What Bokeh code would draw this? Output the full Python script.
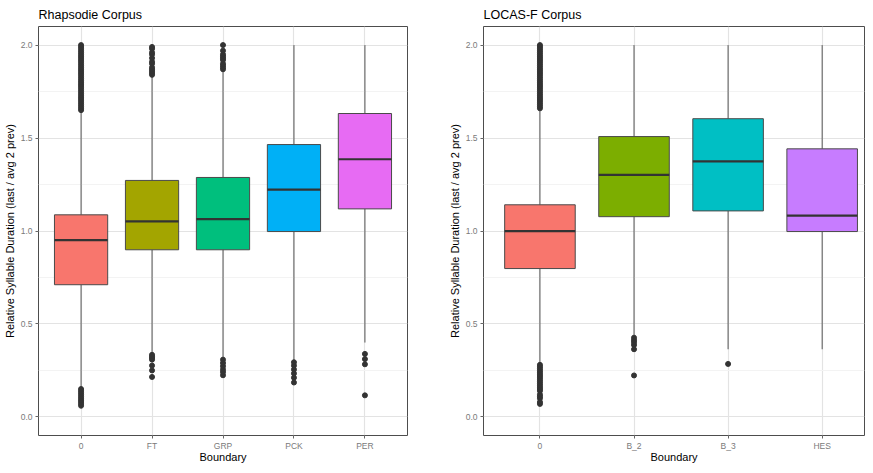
import numpy as np
from bokeh.plotting import figure
from bokeh.layouts import row
from bokeh.models import Range1d, FixedTicker, PrintfTickFormatter
from bokeh.embed import file_html
from bokeh.resources import INLINE

# ---------------- data ----------------
rh_cats = ["0", "FT", "GRP", "PCK", "PER"]
rh_colors = ["#F8766D", "#A3A500", "#00BF7D", "#00B0F6", "#E76BF3"]
rh_q1 = [0.711, 0.899, 0.899, 0.997, 1.119]
rh_med = [0.951, 1.052, 1.064, 1.223, 1.386]
rh_q3 = [1.087, 1.272, 1.288, 1.465, 1.632]
rh_lo = [0.15, 0.34, 0.31, 0.30, 0.40]
rh_hi = [1.645, 1.83, 1.865, 2.0, 2.0]
rh_out_0 = [0.06, 0.07, 0.08, 0.09, 0.10, 0.11, 0.12, 0.13, 0.14, 0.15,
            1.65, 1.66, 1.67, 1.68, 1.69, 1.70, 1.71, 1.72, 1.73, 1.74, 1.75, 1.76,
            1.77, 1.78, 1.79, 1.80, 1.81, 1.82, 1.83, 1.84, 1.85, 1.86, 1.87, 1.88,
            1.89, 1.90, 1.91, 1.92, 1.93, 1.94, 1.95, 1.96, 1.97, 1.98, 1.99, 2.00]
rh_out_ft = [0.215, 0.25, 0.276, 0.308, 0.317, 0.325, 0.334,
             1.84, 1.85, 1.86, 1.87, 1.88, 1.90, 1.91, 1.93, 1.95, 1.96, 1.98, 1.99]
rh_out_grp = [0.224, 0.241, 0.255, 0.273, 0.29, 0.308,
              1.87, 1.88, 1.89, 1.90, 1.92, 1.93, 1.94, 1.95, 1.97, 2.00]
rh_out_pck = [0.185, 0.211, 0.234, 0.255, 0.276, 0.294]
rh_out_per = [0.116, 0.283, 0.311, 0.339]
rh_outliers = [rh_out_0, rh_out_ft, rh_out_grp, rh_out_pck, rh_out_per]

lo_cats = ["0", "B_2", "B_3", "HES"]
lo_colors = ["#F8766D", "#7CAE00", "#00BFC4", "#C77CFF"]
lo_q1 = [0.798, 1.077, 1.108, 0.997]
lo_med = [0.999, 1.302, 1.374, 1.083]
lo_q3 = [1.141, 1.508, 1.604, 1.442]
lo_lo = [0.285, 0.44, 0.364, 0.364]
lo_hi = [1.65, 2.0, 2.0, 2.0]
lo_out_0 = [0.07, 0.08, 0.10, 0.11, 0.12, 0.14, 0.15, 0.16, 0.17, 0.18, 0.19,
            0.20, 0.21, 0.22, 0.23, 0.24, 0.25, 0.26, 0.27, 0.28,
            1.66, 1.67, 1.68, 1.69, 1.70, 1.71, 1.72, 1.73, 1.74, 1.75, 1.76, 1.77,
            1.78, 1.79, 1.80, 1.81, 1.82, 1.83, 1.84, 1.85, 1.86, 1.87, 1.88, 1.89,
            1.90, 1.91, 1.92, 1.93, 1.94, 1.95, 1.96, 1.97, 1.98, 1.99, 2.00]
lo_out_b2 = [0.223, 0.364, 0.387, 0.401, 0.413, 0.426]
lo_out_b3 = [0.285]
lo_out_hes = []
lo_outliers = [lo_out_0, lo_out_b2, lo_out_b3, lo_out_hes]

y_ticks = [0.0, 0.5, 1.0, 1.5, 2.0]
y_minor = [0.25, 0.75, 1.25, 1.75]

FONT = "Liberation Sans"
BOX_W = 0.75


def make_panel(title, cats, colors, q1, med, q3, lo, hi, outliers,
               width, border_left, border_right, x_end):
    xs = np.arange(1, len(cats) + 1, dtype=float)
    p = figure(width=width, height=465, output_backend="svg", toolbar_location=None,
               x_range=Range1d(0.4, x_end), y_range=Range1d(-0.1, 2.1),
               min_border_left=border_left, min_border_right=border_right,
               min_border_top=0, min_border_bottom=0)
    p.title.text = title
    p.title.text_font = FONT
    p.title.text_font_size = "12.5px"
    p.title.text_font_style = "normal"
    p.title.text_color = "#000000"
    p.title.align = "left"
    p.title.standoff = 10

    p.background_fill_color = "white"
    p.border_fill_color = "white"
    p.outline_line_color = "#4d4d4d"
    p.outline_line_width = 1

    # grids
    p.xgrid.ticker = FixedTicker(ticks=list(xs))
    p.xgrid.grid_line_color = "#E3E3E3"
    p.xgrid.grid_line_width = 1.2
    p.ygrid.ticker = FixedTicker(ticks=y_ticks, minor_ticks=y_minor)
    p.ygrid.grid_line_color = "#E3E3E3"
    p.ygrid.grid_line_width = 1.2
    p.ygrid.minor_grid_line_color = "#F3F3F3"
    p.ygrid.minor_grid_line_width = 1

    # axes
    p.xaxis.ticker = FixedTicker(ticks=list(xs))
    p.xaxis.major_label_overrides = {int(x): c for x, c in zip(xs, cats)}
    p.yaxis.ticker = FixedTicker(ticks=y_ticks, minor_ticks=y_minor)
    p.yaxis.formatter = PrintfTickFormatter(format="%.1f")
    for ax in (p.xaxis[0], p.yaxis[0]):
        ax.axis_line_color = None
        ax.major_tick_line_color = "#666666"
        ax.major_tick_out = 3
        ax.major_tick_in = 0
        ax.minor_tick_line_color = None
        ax.major_label_text_font = FONT
        ax.major_label_text_font_size = "8.5px"
        ax.major_label_text_color = "#7a7a7a"
        ax.major_label_standoff = 2
        ax.axis_label_text_font = FONT
        ax.axis_label_text_font_size = "11px"
        ax.axis_label_text_font_style = "normal"
        ax.axis_label_text_color = "#000000"
        ax.axis_label_standoff = 2
    p.xaxis.major_label_standoff = 2
    p.xaxis.axis_label_standoff = -3
    p.xaxis.axis_label = "Boundary"
    p.yaxis.axis_label = "Relative Syllable Duration (last / avg 2 prev)"

    # whiskers
    p.segment(x0=xs, x1=xs, y0=q3, y1=hi, line_color="#555555", line_width=1)
    p.segment(x0=xs, x1=xs, y0=q1, y1=lo, line_color="#555555", line_width=1)
    # boxes
    p.vbar(x=xs, width=BOX_W, top=q3, bottom=q1, fill_color=colors,
           line_color="#4a4a4a", line_width=1)
    # medians
    p.segment(x0=xs - BOX_W / 2, x1=xs + BOX_W / 2, y0=med, y1=med,
              line_color="#333333", line_width=2.2)
    # outliers
    ox, oy = [], []
    for x, vals in zip(xs, outliers):
        ox += [x] * len(vals)
        oy += list(vals)
    p.scatter(x=ox, y=oy, size=5, fill_color="#333333", line_color="#333333")
    return p


p1 = make_panel("Rhapsodie Corpus", rh_cats, rh_colors, rh_q1, rh_med, rh_q3,
                rh_lo, rh_hi, rh_outliers, width=432, border_left=29,
                border_right=25, x_end=5.6)
p2 = make_panel("LOCAS-F Corpus", lo_cats, lo_colors, lo_q1, lo_med, lo_q3,
                lo_lo, lo_hi, lo_outliers, width=433, border_left=51,
                border_right=1, x_end=4.45)

layout = row(p1, p2, spacing=0)
open("out.html", "w").write(file_html(layout, INLINE))
